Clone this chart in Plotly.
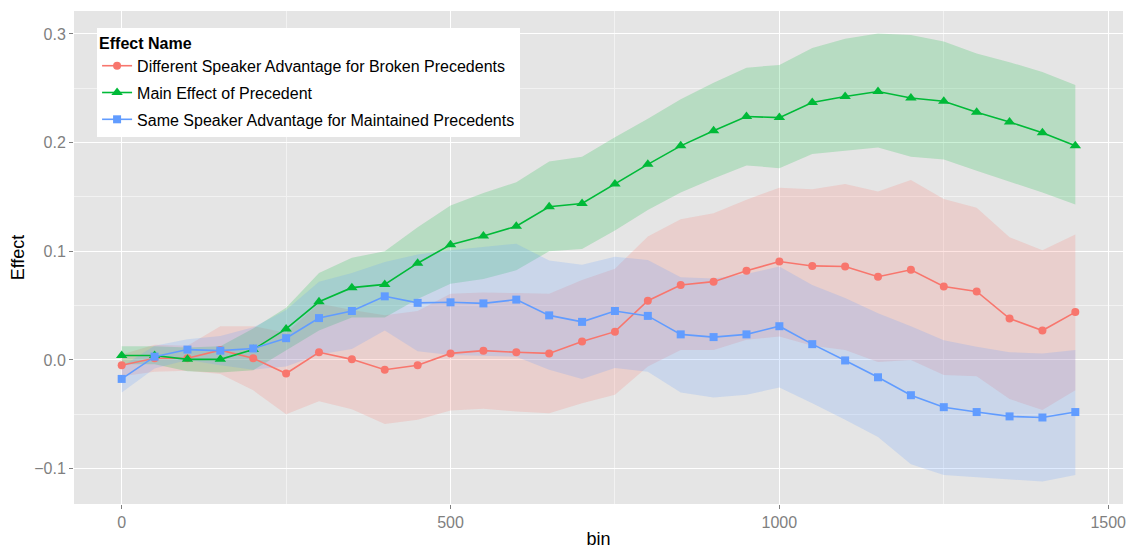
import plotly.graph_objects as go

bins = [0, 50, 100, 150, 200, 250, 300, 350, 400, 450, 500, 550, 600, 650, 700,
        750, 800, 850, 900, 950, 1000, 1050, 1100, 1150, 1200, 1250, 1300, 1350, 1400, 1450]

names = ["Different Speaker Advantage for Broken Precedents",
         "Main Effect of Precedent",
         "Same Speaker Advantage for Maintained Precedents"]

red_mean = [-0.005, 0.0015, 0.0015, 0.009, 0.0015, -0.0125, 0.007, 0.0005, -0.009, -0.005,
            0.006, 0.0085, 0.007, 0.006, 0.017, 0.026, 0.0545, 0.069, 0.072, 0.082,
            0.0905, 0.0865, 0.086, 0.0765, 0.083, 0.0675, 0.063, 0.038, 0.027, 0.044]
red_upper = [0.005, 0.014, 0.013, 0.031, 0.031, 0.025, 0.052, 0.046, 0.041, 0.045,
             0.061, 0.062, 0.0615, 0.061, 0.0735, 0.084, 0.1135, 0.1295, 0.135, 0.1475,
             0.1585, 0.157, 0.162, 0.155, 0.1655, 0.148, 0.14, 0.113, 0.101, 0.1155]
red_lower = [-0.015, -0.011, -0.01, -0.013, -0.028, -0.05, -0.038, -0.0455, -0.059, -0.055,
             -0.0465, -0.045, -0.0475, -0.049, -0.04, -0.032, -0.006, 0.009, 0.009, 0.0185,
             0.0215, 0.013, 0.009, -0.002, 0.0, -0.014, -0.015, -0.036, -0.046, -0.028]

green_mean = [0.004, 0.004, 0.0005, 0.0005, 0.0095, 0.0285, 0.0535, 0.0665, 0.0695, 0.089,
              0.106, 0.114, 0.123, 0.141, 0.144, 0.162, 0.180, 0.197, 0.211, 0.224,
              0.223, 0.237, 0.2425, 0.247, 0.241, 0.238, 0.228, 0.219, 0.209, 0.197]
green_upper = [0.0125, 0.0125, 0.0115, 0.0125, 0.029, 0.048, 0.08, 0.094, 0.1, 0.122,
               0.142, 0.1535, 0.1635, 0.1825, 0.187, 0.205, 0.222, 0.24, 0.255, 0.269,
               0.2715, 0.287, 0.2955, 0.3005, 0.299, 0.293, 0.282, 0.274, 0.265, 0.253]
green_lower = [-0.004, -0.004, -0.0105, -0.0115, -0.0095, 0.009, 0.027, 0.039, 0.039, 0.056,
               0.07, 0.0745, 0.0825, 0.1, 0.102, 0.119, 0.138, 0.154, 0.167, 0.179,
               0.1765, 0.1895, 0.1925, 0.1955, 0.187, 0.1845, 0.174, 0.164, 0.154, 0.143]

blue_mean = [-0.0175, 0.003, 0.0095, 0.0085, 0.0105, 0.02, 0.0385, 0.045, 0.0585, 0.0525,
             0.053, 0.052, 0.0555, 0.041, 0.035, 0.045, 0.0405, 0.0235, 0.021, 0.0235,
             0.031, 0.0145, -0.0005, -0.016, -0.0325, -0.0435, -0.048, -0.052, -0.053, -0.048]
blue_upper = [-0.006, 0.013, 0.019, 0.022, 0.03, 0.046, 0.072, 0.08, 0.09, 0.097,
              0.101, 0.104, 0.107, 0.0915, 0.0875, 0.095, 0.092, 0.076, 0.075, 0.079,
              0.086, 0.069, 0.057, 0.043, 0.031, 0.018, 0.012, 0.007, 0.006, 0.009]
blue_lower = [-0.03, -0.008, 0.0, -0.005, -0.009, -0.006, 0.005, 0.01, 0.027, 0.008,
              0.0045, 0.0035, 0.003, -0.009, -0.0175, -0.0075, -0.011, -0.03, -0.0345, -0.032,
              -0.0255, -0.04, -0.055, -0.071, -0.096, -0.106, -0.108, -0.11, -0.112, -0.106]

x_ticks = [0, 500, 1000, 1500]
y_ticks = [-0.1, 0.0, 0.1, 0.2, 0.3]

colors = ["#F8766D", "#00BA38", "#619CFF"]
fills = ["rgba(248,118,109,0.2)", "rgba(0,186,56,0.2)", "rgba(97,156,255,0.2)"]
symbols = ["circle", "triangle-up", "square"]
msizes = [8, 10, 8]

series = [(red_mean, red_lower, red_upper),
          (green_mean, green_lower, green_upper),
          (blue_mean, blue_lower, blue_upper)]

FONT = "Liberation Sans, Arial, sans-serif"
fig = go.Figure()

for (m, lo, hi), fc in zip(series, fills):
    fig.add_trace(go.Scatter(x=bins, y=lo, mode="lines", line=dict(width=0),
                             showlegend=False, hoverinfo="skip"))
    fig.add_trace(go.Scatter(x=bins, y=hi, mode="lines", line=dict(width=0),
                             fill="tonexty", fillcolor=fc,
                             showlegend=False, hoverinfo="skip"))

for i, ((m, lo, hi), name, c, s, ms) in enumerate(zip(series, names, colors, symbols, msizes)):
    fig.add_trace(go.Scatter(x=bins, y=m, mode="lines+markers", name=name,
                             legendgroup="g%d" % i,
                             line=dict(color=c, width=1.6),
                             marker=dict(symbol=s, size=ms, color=c)))

all_lo = min(red_lower + green_lower + blue_lower)
all_hi = max(red_upper + green_upper + blue_upper)
yr = all_hi - all_lo
xr = bins[-1] - bins[0]

fig.update_layout(
    width=1128, height=550,
    margin=dict(l=74, r=5, t=11, b=46),
    paper_bgcolor="white", plot_bgcolor="#E5E5E5",
    font=dict(family=FONT, size=16, color="black"),
    showlegend=True,
    legend=dict(
        x=0.022, y=0.9655, xanchor="left", yanchor="top",
        bgcolor="white", borderwidth=0,
        traceorder="grouped", tracegroupgap=3,
        title=dict(text="<b>Effect Name</b>", font=dict(size=16, color="black")),
        font=dict(size=16, color="black"),
    ),
    xaxis=dict(
        range=[bins[0] - 0.05 * xr, bins[-1] + 0.05 * xr],
        tickvals=x_ticks, ticktext=[str(v) for v in x_ticks],
        showgrid=True, gridcolor="white", gridwidth=1.3,
        minor=dict(showgrid=True, gridcolor="#F2F2F2", gridwidth=0.8, dtick=250, tick0=0),
        zeroline=False, showline=False, automargin=False,
        ticks="outside", ticklen=4, tickcolor="#7F7F7F", tickwidth=1,
        tickfont=dict(size=16, color="#7F7F7F"),
        title=dict(text="bin", font=dict(size=18, color="black"), standoff=2),
    ),
    yaxis=dict(
        range=[all_lo - 0.05 * yr, all_hi + 0.05 * yr],
        tickvals=y_ticks, tickformat=".1f",
        showgrid=True, gridcolor="white", gridwidth=1.3,
        minor=dict(showgrid=True, gridcolor="#F2F2F2", gridwidth=0.8, dtick=0.05, tick0=0),
        zeroline=False, showline=False, automargin=False,
        ticks="outside", ticklen=4, tickcolor="#7F7F7F", tickwidth=1,
        tickfont=dict(size=16, color="#7F7F7F"),
        title=dict(text="Effect", font=dict(size=18, color="black"), standoff=4),
    ),
)

fig.write_html("out.html", config={"displayModeBar": False},
               post_script="document.body.style.margin='0';document.body.style.padding='0';")
